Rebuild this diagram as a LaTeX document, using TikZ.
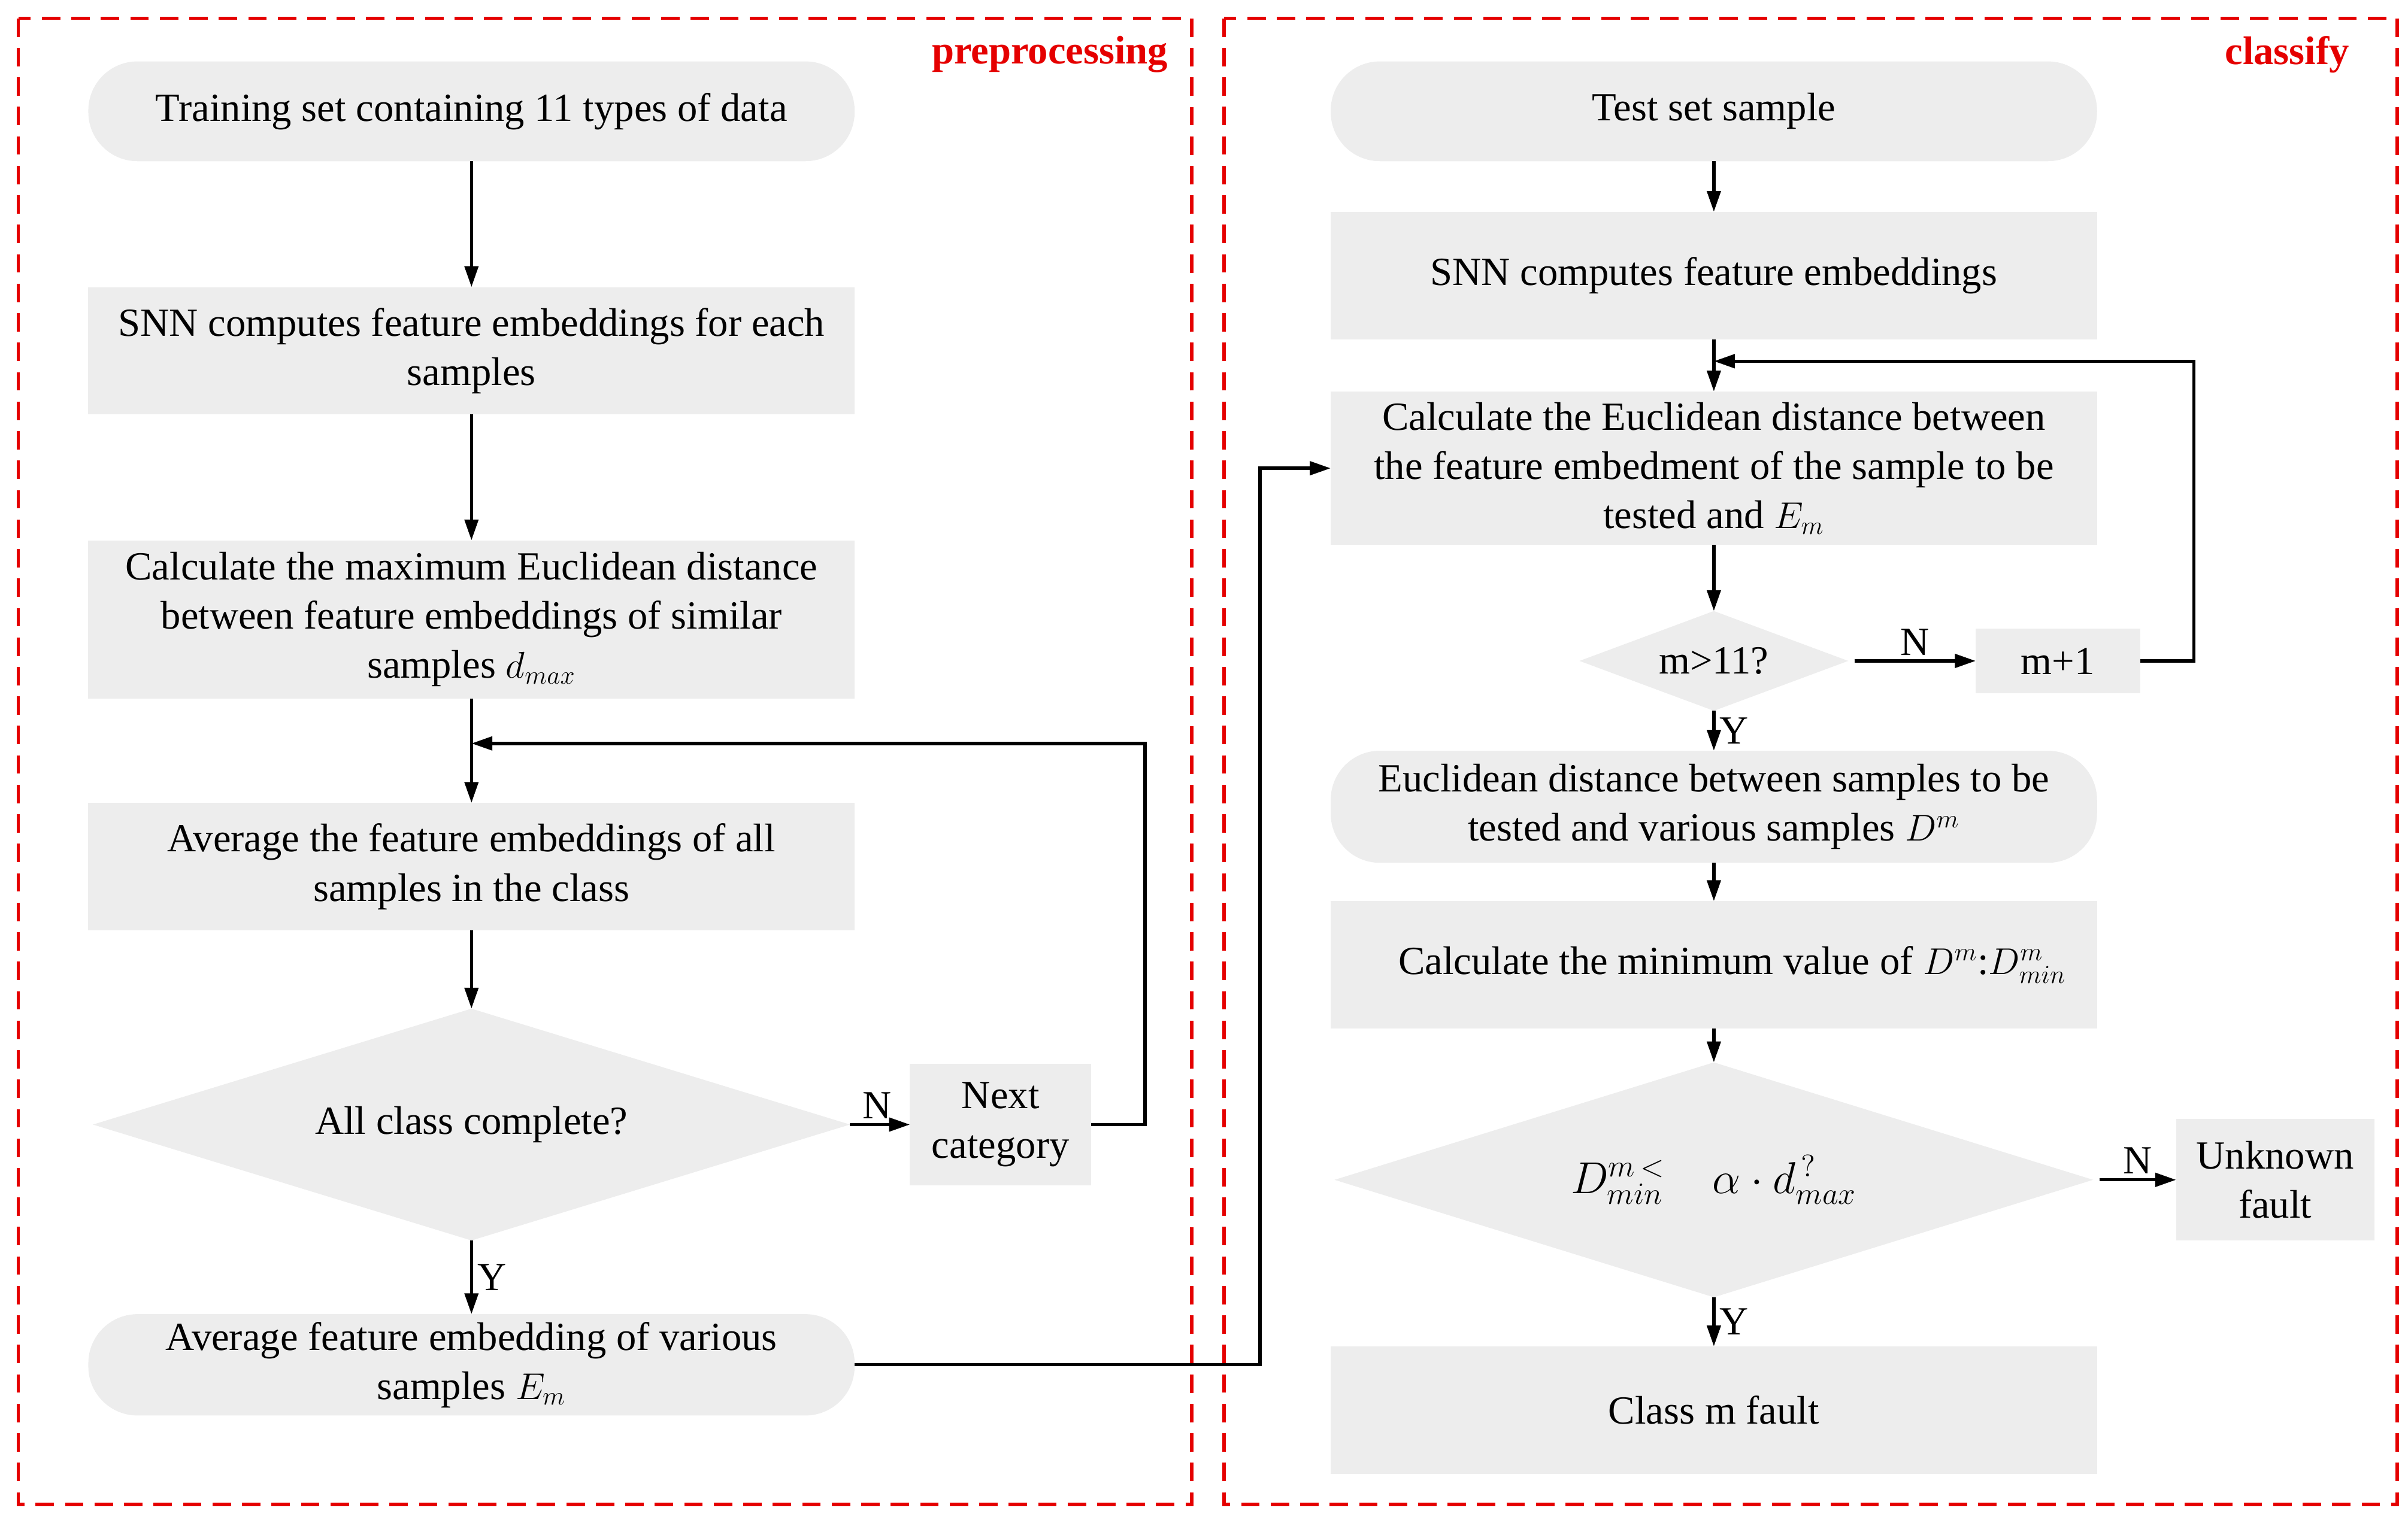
\documentclass[tikz,border=0pt]{standalone}
\usepackage{fontspec}
\setmainfont{Liberation Serif}
\usepackage{tikz}
\usetikzlibrary{arrows.meta,positioning}
\usetikzlibrary{calc,shapes.geometric}

\begin{document}
\begin{tikzpicture}[
                    every node/.style={font=\fontsize{18.5}{22.8}\selectfont},
                    stepbox/.style={rectangle, fill=black!7, align=center, inner sep=0pt, outer sep=0pt, minimum width=12.475cm, minimum height=2.075cm},
                    terminal/.style={stepbox, rounded corners=0.8cm, minimum height=1.625cm},
                    decision/.style={diamond, fill=black!7, align=center, inner sep=0pt, outer sep=0pt},
                    smallbox/.style={stepbox, minimum width=2.95cm, minimum height=1.975cm},
                    flow/.style={-{Triangle[length=0.34cm,width=0.22cm]}, line width=1.5pt},
                    frame/.style={draw=red!90!black, line width=1.5pt, dash pattern=on 0.3cm off 0.18cm},
                    tag/.style={font=\fontsize{18.5}{22.8}\selectfont\bfseries, text=red!90!black, inner sep=0pt},
                    note/.style={inner sep=2pt}
                ]
                    \useasboundingbox (0,0) rectangle (39.2,-24.8);
                    % Frames
                    \draw[frame] (0.3,-0.3) rectangle (19.4,-24.5);
                    \draw[frame] (19.925,-0.3) rectangle (39.025,-24.5);
                    \node[tag, anchor=north east] (PreTag) at (19.02,-0.58) {preprocessing};
                    \node[tag, anchor=north east] (ClsTag) at (38.25,-0.58) {classify};

                    % Preprocessing
                    \node[terminal] (Train) at (7.675,-1.8125) {Training set containing 11 types of data};
                    \node[stepbox, below=2.05cm of Train] (Embed) {SNN computes feature embeddings for each\\samples};
                    \node[stepbox, below=2.05cm of Embed, minimum height=2.575cm] (MaxDist) {Calculate the maximum Euclidean distance\\between feature embeddings of similar\\samples $d_{max}$};
                    \node[stepbox, below=1.7cm of MaxDist] (Average) {Average the feature embeddings of all\\samples in the class};
                    \node[decision, below=1.275cm of Average, aspect=3.265, minimum width=12.325cm, minimum height=3.775cm] (AllDone) {All class complete?};
                    \node[smallbox, right=0.975cm of AllDone] (NextCat) {Next\\category};
                    \node[terminal, below=1.2cm of AllDone, minimum height=1.65cm] (Mean) {Average feature embedding of various\\samples $E_m$};
                    \coordinate (JoinL) at ($(MaxDist.south)!0.43!(Average.north)$);

                    % Classify
                    \node[terminal] (Test) at (27.9,-1.8125) {Test set sample};
                    \node[stepbox, below=0.825cm of Test] (TestEmbed) {SNN computes feature embeddings};
                    \node[stepbox, below=0.85cm of TestEmbed, minimum height=2.5cm] (Dist) {Calculate the Euclidean distance between\\the feature embedment of the sample to be\\tested and $E_m$};
                    \node[decision, below=1.075cm of Dist, aspect=2.69, minimum width=4.375cm, minimum height=1.625cm] (Count) {m>11?};
                    \node[smallbox, right=2.075cm of Count, minimum width=2.675cm, minimum height=1.05cm] (Next) {m+1};
                    \node[terminal, below=0.65cm of Count, minimum height=1.825cm] (AllDist) {Euclidean distance between samples to be\\tested and various samples $D^m$};
                    \node[stepbox, below=0.625cm of AllDist] (MinDist) {\hspace*{0.6cm}Calculate the minimum value of $D^m$:$D^m_{min}$};
                    \node[decision, below=0.55cm of MinDist, aspect=3.23, minimum width=12.35cm, minimum height=3.825cm, font=\fontsize{22}{26}\selectfont] (Check) {$D^{m\,<}_{min}\quad\alpha\cdot d_{max}^{\,?}$};
                    \node[smallbox, right=1.35cm of Check, minimum width=3.225cm] (Unknown) {Unknown\\fault};
                    \node[stepbox, below=0.8cm of Check] (Fault) {Class m fault};
                    \coordinate (JoinR) at ($(TestEmbed.south)!0.42!(Dist.north)$);

                    % Connectors
                    \draw[flow] (Train) -- (Embed);
                    \draw[flow] (Embed) -- (MaxDist);
                    \draw[flow] (MaxDist) -- (Average);
                    \draw[flow] (Average) -- (AllDone);
                    \draw[flow] (AllDone) -- node[pos=0.45, above, note]{N} (NextCat);
                    \draw[flow] (AllDone) -- node[right, note]{Y} (Mean);
                    \draw[flow] (NextCat.east) -- ++(0.875,0) |- (JoinL);
                    \draw[flow] (Mean.east) -- ++(6.6,0) |- (Dist.west);

                    \draw[flow] (Test) -- (TestEmbed);
                    \draw[flow] (TestEmbed) -- (Dist);
                    \draw[flow] (Dist) -- (Count);
                    \draw[flow] ([xshift=0.1cm]Count.east) -- node[above, note]{N} (Next);
                    \draw[flow] (Count) -- node[right, note]{Y} (AllDist);
                    \draw[flow] (Next.east) -- ++(0.875,0) |- (JoinR);
                    \draw[flow] (AllDist) -- (MinDist);
                    \draw[flow] (MinDist) -- (Check);
                    \draw[flow] ([xshift=0.1cm]Check.east) -- node[above, note]{N} (Unknown);
                    \draw[flow] (Check) -- node[right, note]{Y} (Fault);
                \end{tikzpicture}
\end{document}
